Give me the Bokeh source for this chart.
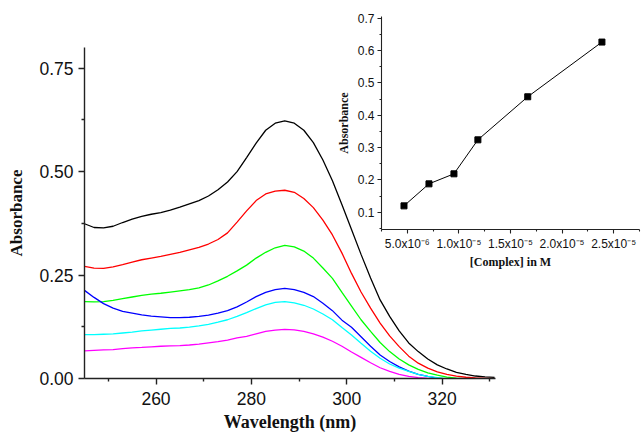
from bokeh.plotting import figure
from bokeh.layouts import column
from bokeh.models import FixedTicker, Range1d, CustomJSTickFormatter, GridBox
from bokeh.embed import file_html
from bokeh.resources import INLINE

# ---------------- data ----------------
wavelength = [245, 247, 249, 251, 253, 255, 257, 259, 261, 263, 265, 267, 269, 271,
              273, 275, 277, 279, 281, 283, 285, 287, 289, 291, 293, 295, 297, 299,
              301, 303, 305, 307, 309, 311, 313, 315, 317, 319, 321, 323, 325, 327,
              329, 331]

abs_black = [0.374, 0.365, 0.364, 0.368, 0.377, 0.385, 0.392, 0.397, 0.401, 0.407,
             0.414, 0.422, 0.430, 0.441, 0.456, 0.475, 0.500, 0.534, 0.569, 0.600,
             0.617, 0.6225, 0.617, 0.600, 0.570, 0.528, 0.478, 0.420, 0.360, 0.300,
             0.243, 0.190, 0.150, 0.115, 0.086, 0.065, 0.047, 0.033, 0.023, 0.015,
             0.010, 0.006, 0.004, 0.0025]

abs_red = [0.271, 0.267, 0.266, 0.270, 0.275, 0.281, 0.287, 0.291, 0.295, 0.300,
           0.305, 0.311, 0.317, 0.325, 0.336, 0.352, 0.378, 0.405, 0.430, 0.446,
           0.453, 0.455, 0.450, 0.435, 0.413, 0.383, 0.347, 0.303, 0.254, 0.209,
           0.170, 0.134, 0.103, 0.077, 0.054, 0.037, 0.025, 0.016, 0.010, 0.0055,
           0.003, 0.0015, 0.0005, -0.0005]

abs_green = [0.186, 0.185, 0.186, 0.189, 0.193, 0.197, 0.201, 0.204, 0.206, 0.209,
             0.212, 0.215, 0.219, 0.226, 0.236, 0.247, 0.260, 0.274, 0.291, 0.305,
             0.316, 0.322, 0.318, 0.308, 0.291, 0.267, 0.242, 0.208, 0.175, 0.142,
             0.114, 0.087, 0.065, 0.047, 0.033, 0.022, 0.0135, 0.008, 0.0035, 0.001,
             -0.001, -0.002, -0.003, -0.004]

abs_blue = [0.213, 0.196, 0.181, 0.170, 0.162, 0.158, 0.154, 0.151, 0.149, 0.147,
            0.147, 0.148, 0.150, 0.153, 0.158, 0.164, 0.173, 0.185, 0.198, 0.208,
            0.215, 0.218, 0.215, 0.208, 0.198, 0.182, 0.164, 0.141, 0.124, 0.101,
            0.078, 0.057, 0.041, 0.028, 0.018, 0.010, 0.005, 0.001, -0.001, -0.0025,
            -0.0035, -0.0045, -0.005, -0.0055]

abs_cyan = [0.106, 0.106, 0.107, 0.108, 0.110, 0.112, 0.115, 0.117, 0.119, 0.121,
            0.122, 0.124, 0.127, 0.131, 0.136, 0.142, 0.150, 0.159, 0.169, 0.178,
            0.184, 0.186, 0.183, 0.177, 0.168, 0.156, 0.142, 0.123, 0.105, 0.085,
            0.066, 0.049, 0.035, 0.025, 0.017, 0.010, 0.005, 0.002, -0.001, -0.0025,
            -0.0035, -0.0045, -0.005, -0.0055]

abs_magenta = [0.067, 0.068, 0.069, 0.070, 0.072, 0.074, 0.075, 0.0765, 0.078, 0.079,
               0.0795, 0.081, 0.083, 0.086, 0.089, 0.093, 0.098, 0.102, 0.108, 0.114,
               0.117, 0.1185, 0.1175, 0.114, 0.108, 0.100, 0.090, 0.078, 0.064, 0.051,
               0.038, 0.026, 0.017, 0.010, 0.005, 0.002, 0.0, -0.0015, -0.0025, -0.003,
               -0.0035, -0.0035, -0.0035, -0.0035]

series_colors = ["#000000", "#FF0000", "#00FF00", "#0000FF", "#00FFFF", "#FF00FF"]

concentration = [4.68e-6, 7.10e-6, 9.52e-6, 1.184e-5, 1.667e-5, 2.386e-5]
peak_absorbance = [0.120, 0.188, 0.219, 0.324, 0.457, 0.626]

main_xticks = [260, 280, 300, 320]
main_xminor = [250, 270, 290, 310, 330]
main_yticks = [0.0, 0.25, 0.5, 0.75]
main_ylabels = ["0.00", "0.25", "0.50", "0.75"]
main_yminor = [0.125, 0.375, 0.625]

inset_xticks = [5e-6, 1e-5, 1.5e-5, 2e-5, 2.5e-5]
inset_xlabels = ["5.0x10\u207b\u2076", "1.0x10\u207b\u2075", "1.5x10\u207b\u2075",
                 "2.0x10\u207b\u2075", "2.5x10\u207b\u2075"]
inset_xminor = [2.5e-6, 7.5e-6, 1.25e-5, 1.75e-5, 2.25e-5, 2.75e-5]
inset_yticks = [0.1, 0.2, 0.3, 0.4, 0.5, 0.6, 0.7]
inset_ylabels = ["0.1", "0.2", "0.3", "0.4", "0.5", "0.6", "0.7"]
inset_yminor = [0.05, 0.15, 0.25, 0.35, 0.45, 0.55, 0.65]

SANS = "Liberation Sans"
SERIF = "Liberation Serif"

LOOKUP = """
for (let i = 0; i < tvals.length; i++) {
  if (Math.abs(tvals[i] - tick) <= Math.abs(tvals[i]) * 1e-6 + 1e-12) { return tlabels[i]; }
}
return "";
"""

W, H = 642, 435
INSET_X, INSET_W, INSET_H = 300, 342, 275


def style_axes(fig, font_px, lw):
    for ax in (fig.xaxis[0], fig.yaxis[0]):
        ax.axis_line_color = "#222222"
        ax.axis_line_width = lw
        ax.major_tick_line_color = "#222222"
        ax.major_tick_line_width = lw
        ax.minor_tick_line_color = "#222222"
        ax.minor_tick_line_width = lw
        ax.major_tick_in = 0
        ax.minor_tick_in = 0
        ax.major_label_text_font = SANS
        ax.major_label_text_font_size = font_px
        ax.major_label_text_color = "#111111"
        ax.axis_label_text_font = SERIF
        ax.axis_label_text_font_style = "bold"
        ax.axis_label_text_color = "#111111"


# ---------------- main plot ----------------
main = figure(width=W, height=H, output_backend="svg", toolbar_location=None,
              x_range=Range1d(245, 331.2), y_range=Range1d(0, 0.8),
              min_border_left=84, min_border_right=W - 495, min_border_top=47,
              min_border_bottom=H - 378)
main.outline_line_color = None
main.grid.visible = False
main.background_fill_color = "white"
main.border_fill_color = "white"

for ys, c in zip([abs_black, abs_red, abs_green, abs_blue, abs_cyan, abs_magenta],
                 series_colors):
    main.line(wavelength, ys, line_color=c, line_width=1.3)

main.xaxis.ticker = FixedTicker(ticks=main_xticks, minor_ticks=main_xminor)
main.yaxis.ticker = FixedTicker(ticks=main_yticks, minor_ticks=main_yminor)
main.yaxis.formatter = CustomJSTickFormatter(args=dict(tvals=main_yticks, tlabels=main_ylabels),
                                             code=LOOKUP)
main.xaxis.axis_label = "Wavelength (nm)"
main.yaxis.axis_label = "Absorbance"
style_axes(main, "17.5px", 1.4)
for ax in (main.xaxis[0], main.yaxis[0]):
    ax.major_tick_out = 6
    ax.minor_tick_out = 3
main.xaxis.axis_label_text_font_size = "18px"
main.yaxis.axis_label_text_font_size = "17px"
main.xaxis.major_label_standoff = 7
main.xaxis.axis_label_standoff = 4
main.yaxis.major_label_standoff = 5
main.yaxis.axis_label_standoff = 10

# ---------------- inset ----------------
inset = figure(width=INSET_W, height=INSET_H, output_backend="svg", toolbar_location=None,
               x_range=Range1d(2.5e-6, 2.75e-5), y_range=Range1d(0.047, 0.705),
               min_border_left=381 - INSET_X, min_border_right=3, min_border_top=16,
               min_border_bottom=INSET_H - 229)
inset.outline_line_color = None
inset.grid.visible = False
inset.background_fill_alpha = 0
inset.border_fill_alpha = 0
inset.line(concentration, peak_absorbance, line_color="black", line_width=1)
inset.scatter(concentration, peak_absorbance, marker="square", size=6,
              fill_color="black", line_color="black")

inset.xaxis.ticker = FixedTicker(ticks=inset_xticks, minor_ticks=inset_xminor)
inset.xaxis.formatter = CustomJSTickFormatter(args=dict(tvals=inset_xticks, tlabels=inset_xlabels),
                                              code=LOOKUP)
inset.yaxis.ticker = FixedTicker(ticks=inset_yticks, minor_ticks=inset_yminor)
inset.yaxis.formatter = CustomJSTickFormatter(args=dict(tvals=inset_yticks, tlabels=inset_ylabels),
                                              code=LOOKUP)
inset.xaxis.axis_label = "[Complex] in M"
inset.yaxis.axis_label = "Absorbance"
style_axes(inset, "12px", 1.1)
for ax in (inset.xaxis[0], inset.yaxis[0]):
    ax.major_tick_out = 4
    ax.minor_tick_out = 2
    ax.axis_label_text_font_size = "12px"
inset.xaxis.major_label_standoff = 3
inset.xaxis.axis_label_standoff = 1
inset.yaxis.major_label_standoff = 3
inset.yaxis.axis_label_standoff = 4

# overlay the inset on top of the main figure (overlapping grid cells)
inset_box = column(inset)
grid = GridBox(children=[(main, 0, 0, 2, 2), (inset_box, 0, 1, 1, 1)],
               rows=[f"{INSET_H}px", f"{H - INSET_H}px"],
               cols=[f"{INSET_X}px", f"{W - INSET_X}px"], spacing=0)

with open("out.html", "w") as f:
    f.write(file_html(grid, INLINE))
